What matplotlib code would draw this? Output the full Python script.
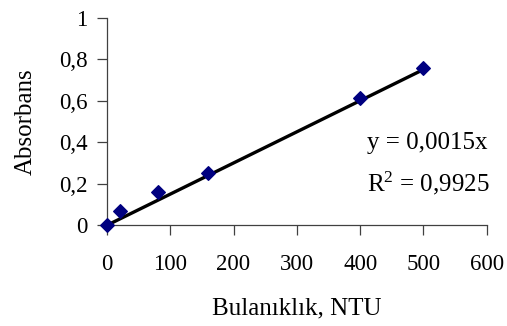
import matplotlib
matplotlib.use("Agg")
import matplotlib.pyplot as plt
from matplotlib.ticker import FuncFormatter, MultipleLocator

turbidity = [0, 20, 80, 160, 400, 500]
absorbance = [0, 0.068, 0.162, 0.25, 0.615, 0.759]
slope = 0.0015
r_squared = 0.9925

plt.rcParams['font.family'] = 'Liberation Serif'
plt.rcParams['mathtext.fontset'] = 'custom'
plt.rcParams['mathtext.rm'] = 'Liberation Serif'
plt.rcParams['mathtext.it'] = 'Liberation Serif'

fig = plt.figure(figsize=(5.07, 3.26), dpi=100)
ax = fig.add_axes([0.211, 0.309, 0.749, 0.637])

# trendline through origin
fit_x = [0, max(turbidity)]
fit_y = [slope * v for v in fit_x]
ax.plot(fit_x, fit_y, color='black', lw=2.4, zorder=2)
ax.scatter(turbidity, absorbance, marker='D', s=48, color='#000080', zorder=3, clip_on=False)

ax.set_xlim(0, 600)
ax.set_ylim(0, 1)
ax.xaxis.set_major_locator(MultipleLocator(100))
ax.yaxis.set_major_locator(MultipleLocator(0.2))

comma = FuncFormatter(lambda v, p: ('%g' % round(v, 2)).replace('.', ','))
ax.xaxis.set_major_formatter(comma)
ax.yaxis.set_major_formatter(comma)

for side in ['top', 'right']:
    ax.spines[side].set_visible(False)
for side in ['left', 'bottom']:
    ax.spines[side].set_color('#404040')
    ax.spines[side].set_linewidth(0.9)

ax.tick_params(direction='out', length=7, width=0.9, color='#404040', labelsize=16.5)
ax.tick_params(axis='x', pad=14)
ax.tick_params(axis='y', pad=7)

ax.set_xlabel('Bulanıklık, NTU', fontsize=18, labelpad=16)
ax.set_ylabel('Absorbans', fontsize=18, labelpad=16)

ax.text(411, 0.396, 'y = ' + ('%g' % slope).replace('.', ',') + 'x',
        fontsize=18, va='center', ha='left')
ax.text(411, 0.204, 'R$^2$ = ' + ('%g' % r_squared).replace('.', ','),
        fontsize=18, va='center', ha='left')

fig.savefig('out.png', dpi=100)
